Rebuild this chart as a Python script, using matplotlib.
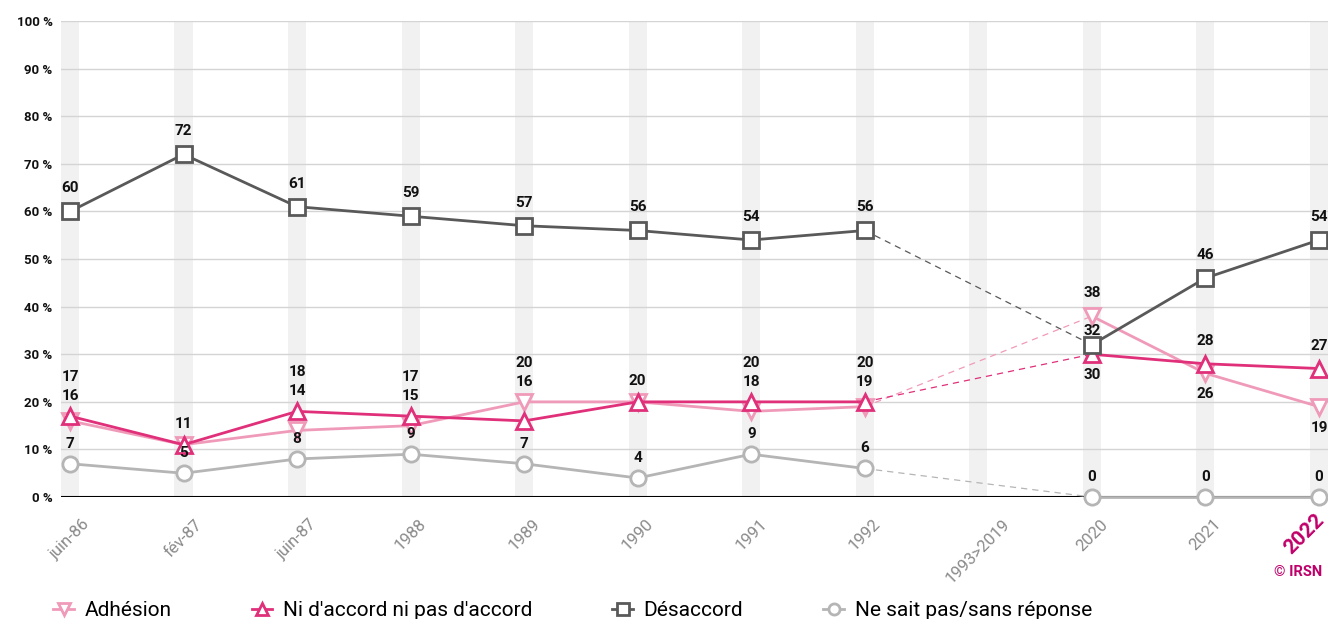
import numpy as np
import matplotlib.pyplot as plt
from matplotlib.lines import Line2D

plt.rcParams['font.family'] = ['Roboto', 'DejaVu Sans']

categories = ['juin-86', 'fév-87', 'juin-87', '1988', '1989', '1990', '1991',
              '1992', '1993>2019', '2020', '2021', '2022']
adhesion = [16, 11, 14, 15, 20, 20, 18, 19, np.nan, 38, 26, 19]
ni_ni = [17, 11, 18, 17, 16, 20, 20, 20, np.nan, 30, 28, 27]
desaccord = [60, 72, 61, 59, 57, 56, 54, 56, np.nan, 32, 46, 54]
nsp = [7, 5, 8, 9, 7, 4, 9, 6, np.nan, 0, 0, 0]

c_adh = '#f09ab9'
c_ni = '#e0307a'
c_des = '#595959'
c_nsp = '#b5b5b5'

fig = plt.figure(figsize=(13.28, 6.19), dpi=100)
ax = fig.add_axes([0.0459, 0.197, 0.9541, 0.769])

x = np.arange(len(categories))
for xi in x:
    ax.axvspan(xi - 0.08, xi + 0.08, color='#f1f1f1', zorder=0, lw=0)
for yv in range(10, 101, 10):
    ax.axhline(yv, color='#d4d4d4', lw=1, zorder=1)
ax.axhline(0, color='black', lw=1.5, zorder=2)

series = [
    (adhesion, c_adh, 'v', 'Adhésion'),
    (ni_ni, c_ni, '^', "Ni d'accord ni pas d'accord"),
    (desaccord, c_des, 's', 'Désaccord'),
    (nsp, c_nsp, 'o', 'Ne sait pas/sans réponse'),
]
handles = []
for vals, col, mk, lab in series:
    v = np.array(vals, dtype=float)
    ax.plot(x[:8], v[:8], color=col, lw=2, marker=mk, ms=11, mfc='white',
            mec=col, mew=2, zorder=4, clip_on=False)
    ax.plot(x[9:], v[9:], color=col, lw=2, marker=mk, ms=11, mfc='white',
            mec=col, mew=2, zorder=4, clip_on=False)
    ax.plot([x[7], x[9]], [v[7], v[9]], color=col, lw=0.9, ls=(0, (5, 4)), zorder=3)
    handles.append(Line2D([], [], color=col, lw=2, marker=mk, ms=8, mfc='white',
                          mec=col, mew=2, label=lab))

lab_kw = dict(ha='center', va='center', fontsize=11, fontweight='bold',
              color='#111111', textcoords='offset pixels', zorder=6)

def put(i, val, dy):
    ax.annotate(f'{int(val)}', (x[i], val), xytext=(0, dy), **lab_kw)

for i in range(len(categories)):
    if np.isnan(desaccord[i]):
        continue
    a, n = adhesion[i], ni_ni[i]
    if i < 8:
        top = max(a, n)
        if a == n:
            put(i, top, 21)
        else:
            ax.annotate(f'{int(max(a, n))}', (x[i], top), xytext=(0, 39), **lab_kw)
            ax.annotate(f'{int(min(a, n))}', (x[i], top), xytext=(0, 20), **lab_kw)
        put(i, desaccord[i], 23)
    else:
        hi, lo = max(a, n), min(a, n)
        put(i, hi, 23)
        put(i, lo, -21)
        put(i, desaccord[i], 14 if i == 9 else 23)
    put(i, nsp[i], 20)

ax.set_xlim(-0.08, 11.08)
ax.set_ylim(0, 100)
ax.set_yticks(range(0, 101, 10))
ax.set_yticklabels([f'{v} %' for v in range(0, 101, 10)], fontsize=9.5,
                   fontweight='bold', color='#111111')
ax.tick_params(axis='y', length=0, pad=6)
ax.set_xticks(x)
ax.set_xticklabels(categories[:-1] + [''], rotation=45, ha='center', fontsize=12,
                   color='#8a8a8a')
ax.tick_params(axis='x', length=0, pad=14)
# last year highlighted, pushed left so it stays inside the picture
ax.annotate(categories[-1], (x[-1], 0), xytext=(-15, -13), textcoords='offset pixels',
            rotation=45, ha='center', va='top', fontsize=15, fontweight='bold',
            color='#c0006a', annotation_clip=False)
for s in ax.spines.values():
    s.set_visible(False)

fig.text(0.9955, 0.076, '© IRSN', ha='right', va='center', fontsize=10.5,
         fontweight='bold', color='#c0006a')

fig.legend(handles=handles, loc='center left', bbox_to_anchor=(0.04, 0.013),
           ncol=4, frameon=False, fontsize=15, handlelength=1.0,
           columnspacing=3.85, handletextpad=0.5, borderaxespad=0, borderpad=0)

fig.savefig('out.png', dpi=100)
